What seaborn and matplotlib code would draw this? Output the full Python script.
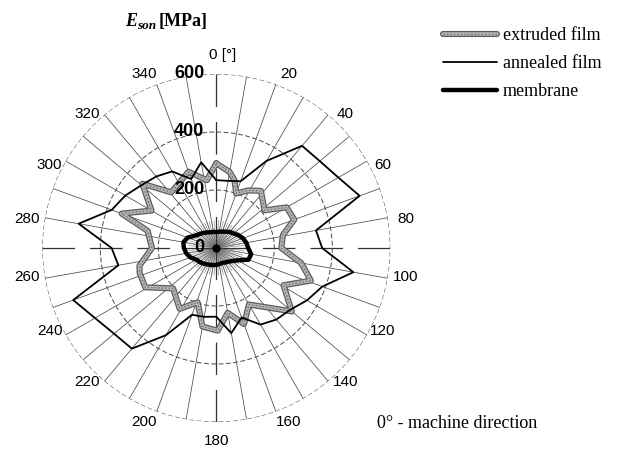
import numpy as np
import pandas as pd
import matplotlib
matplotlib.use('Agg')
import matplotlib.pyplot as plt
import seaborn as sns
from matplotlib.legend_handler import HandlerTuple
from matplotlib.lines import Line2D

sns.set_style('white')
plt.rcParams['font.family'] = ['Liberation Sans', 'DejaVu Sans']
plt.rcParams['text.color'] = 'black'
plt.rcParams['xtick.color'] = 'black'
plt.rcParams['ytick.color'] = 'black'

# ---------------- data ----------------
theta_ticks = list(range(0, 360, 10))
label_angles = list(range(0, 360, 20))
theta_labels = ['0 [°]'] + [str(a) for a in range(20, 360, 20)]
r_ticks = [0, 200, 400, 600]
r_labels = ['0', '200', '400', '600']

annealed_angles = list(range(0, 360, 10))
annealed = [234, 235, 245, 347, 460, 466, 486, 526, 349, 365, 480, 389,
            361, 332, 322, 305, 255, 298, 237, 241, 245, 347, 453, 460,
            483, 525, 343, 361, 482, 384, 362, 337, 322, 305, 253, 300]

extruded_angles = [0, 10, 15, 20, 29, 38, 52, 60, 70, 79, 90, 100, 109, 119,
                   130, 150, 160, 170, 179, 190, 199, 211, 227, 241, 252, 257,
                   270, 284, 290, 300, 311, 321, 340, 352]
extruded = [292, 266, 242, 200, 227, 250, 211, 280, 286, 234, 224, 297, 345, 265,
            340, 225, 279, 227, 285, 275, 198, 245, 204, 280, 278, 272,
            222, 244, 347, 258, 338, 247, 280, 236]

membrane_angles = list(range(0, 360, 10))
membrane = [55, 57, 60, 65, 72, 78, 88, 98, 105, 110, 122, 118,
            85, 70, 62, 58, 55, 57, 58, 60, 62, 65, 70, 75,
            80, 95, 105, 112, 115, 105, 85, 75, 68, 62, 58, 56]

series_names = ['extruded film', 'annealed film', 'membrane']


def closed_frame(angles, values, name):
    a = list(angles) + [angles[0] + 360]
    v = list(values) + [values[0]]
    return pd.DataFrame({'theta': np.deg2rad(a), 'E': v, 'series': name})


df_ext = closed_frame(extruded_angles, extruded, series_names[0])
df_ann = closed_frame(annealed_angles, annealed, series_names[1])
df_mem = closed_frame(membrane_angles, membrane, series_names[2])

# ---------------- figure ----------------
W, H = 617, 457
fig = plt.figure(figsize=(W / 100, H / 100), dpi=100)
cx, cy, R = 216.3, 248.0, 174.0
ax = fig.add_axes([(cx - R) / W, (H - cy - R) / H, 2 * R / W, 2 * R / H],
                  projection='polar')
ax.set_theta_zero_location('N')
ax.set_theta_direction(-1)
ax.set_ylim(0, 600)
ax.spines['polar'].set_visible(False)
ax.set_facecolor('none')

# grid
ax.set_xticks(np.deg2rad(theta_ticks))
ax.set_xticklabels([])
ax.set_yticks([200, 400, 600])
ax.set_yticklabels([])
ax.xaxis.grid(True, color='#4a4a4a', lw=0.55, ls='-')
ax.yaxis.grid(True, color='#4a4a4a', lw=0.7, ls=(0, (5, 2.5)))
for i, g in enumerate(ax.xaxis.get_gridlines()):
    if theta_ticks[i] % 90 == 0:
        g.set_visible(False)
# cardinal axes: long dashes
for a in (0, 90, 180, 270):
    ax.plot([np.deg2rad(a)] * 2, [600, 0], color='#333333', lw=0.9,
            ls=(0, (26, 12)), zorder=1.5)
# dense short rays near centre
for a in np.arange(0, 360, 5):
    ax.plot([np.deg2rad(a)] * 2, [0, 95], color='#777777', lw=0.4, zorder=1.4)

# angular labels, placed just outside the outer ring
for a, lab in zip(label_angles, theta_labels):
    a_pos = a + 4.0 * np.sin(np.deg2rad(2 * a))
    r_px = 186.0 + 7.0 * np.cos(np.deg2rad(2 * a)) ** 4
    ax.annotate(lab, xy=(np.deg2rad(a_pos), 600 * r_px / R),
                xytext=(6 if a == 0 else 0, 0), textcoords='offset pixels',
                ha='center', va='center', fontsize=11, color='black',
                annotation_clip=False,
                family=['Liberation Sans', 'DejaVu Sans'])

# series
sns.lineplot(data=df_ext, x='theta', y='E', sort=False, estimator=None, ax=ax,
             color='#5c5c5c', lw=4.4, legend=False, zorder=3)
sns.lineplot(data=df_ext, x='theta', y='E', sort=False, estimator=None, ax=ax,
             color='#b4b4b4', lw=2.6, legend=False, zorder=3.1)
sns.lineplot(data=df_ext, x='theta', y='E', sort=False, estimator=None, ax=ax,
             color='#707070', lw=1.0, ls=(0, (1, 1.5)), legend=False, zorder=3.2)
sns.lineplot(data=df_ann, x='theta', y='E', sort=False, estimator=None, ax=ax,
             color='black', lw=1.3, legend=False, zorder=4)
sns.lineplot(data=df_mem, x='theta', y='E', sort=False, estimator=None, ax=ax,
             color='black', lw=3.2, legend=False, zorder=5)
ax.plot([0], [0], 'o', color='black', ms=5, zorder=6)

ax.set_xlabel('')
ax.set_ylabel('')

# radial labels along 0 degree axis
for r, lab in zip(r_ticks, r_labels):
    ax.annotate(lab, xy=(0, r), xytext=(-12, 0), textcoords='offset pixels',
                ha='right', va='center', fontsize=13, fontweight='bold',
                color='black', family=['Liberation Sans', 'DejaVu Sans'], zorder=7)

# title
serif = ['Liberation Serif', 'DejaVu Serif']
fig.text(125 / W, 1 - 26 / H, 'E', fontsize=13, fontweight='bold', style='italic',
         family=serif, va='baseline', color='black')
fig.text(137.5 / W, 1 - 29 / H, 'son', fontsize=9.5, fontweight='bold', style='italic',
         family=serif, va='baseline', color='black')
fig.text(159 / W, 1 - 26 / H, '[MPa]', fontsize=13, fontweight='bold',
         family=serif, va='baseline', color='black')

# legend
h_ext = (Line2D([], [], color='#5c5c5c', lw=4.4),
         Line2D([], [], color='#b4b4b4', lw=2.6),
         Line2D([], [], color='#707070', lw=1.0, ls=(0, (1, 1.5))))
h_ann = Line2D([], [], color='black', lw=1.3)
h_mem = Line2D([], [], color='black', lw=3.2)
leg = fig.legend(handles=[h_ext, h_ann, h_mem], labels=series_names,
                 handler_map={tuple: HandlerTuple(ndivide=1)},
                 loc='upper left', bbox_to_anchor=(443 / W, 1 - 27 / H),
                 frameon=False, prop={'family': serif, 'size': 13},
                 handlelength=3.0, handletextpad=0.3, labelspacing=0.62,
                 borderpad=0, borderaxespad=0)
for t in leg.get_texts():
    t.set_color('black')

fig.text(377 / W, 1 - 423 / H, '0° - machine direction', fontsize=13,
         family=serif, va='center', color='black')

fig.savefig('out.png', dpi=100)
